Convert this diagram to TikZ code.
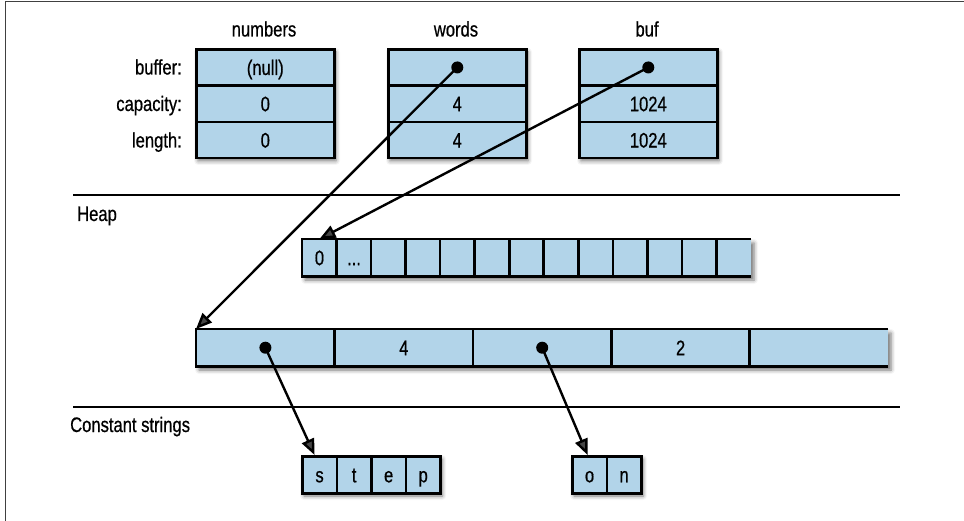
\documentclass[tikz,border=0pt]{standalone}
\usepackage{fontspec}
\setmainfont{Liberation Sans}[FakeStretch=0.79,FakeBold=0.6]
\usetikzlibrary{shadows.blur,arrows.meta}
\definecolor{cellblue}{RGB}{178,212,233}
\begin{document}
\begin{tikzpicture}[x=1pt,y=-1pt,
 lbl/.style={font=\fontsize{21}{25}\selectfont, inner sep=0pt},
 rowcell/.style={lbl, draw=black, line width=2.6pt, fill=cellblue, minimum width=138pt, minimum height=36.3pt, text height=15pt, text depth=0pt, anchor=north west},
 smallcell/.style={lbl, fill=cellblue, minimum width=34.54pt, minimum height=37pt, text height=15pt, text depth=0pt, anchor=north west},
 strcell/.style={smallcell, draw=black, line width=2.6pt},
 bigcell/.style={lbl, fill=cellblue, minimum width=138.4pt, minimum height=37pt, text height=15pt, text depth=0pt, anchor=north west},
 bord/.style={line width=2.6pt, black},
 shad/.style={fill=cellblue, blur shadow={shadow xshift=3pt, shadow yshift=-4pt, shadow blur radius=4pt, shadow opacity=55}},
 dotn/.style={circle, fill=black, inner sep=0pt, minimum size=12pt},
 arr/.style={line width=2.4pt, -{Triangle[length=16pt,width=13pt]}},
 sep/.style={line width=2.4pt},
]
\useasboundingbox (0,0) rectangle (964,521);
% frame
\draw[line width=1.6pt, black!75] (5.5,521) -- (5.5,1.5) -- (964,1.5);

% top structs
\path[shad] (195,48) rectangle ++(138,108.9);
\path[shad] (387,48) rectangle ++(138,108.9);
\path[shad] (578,48) rectangle ++(138,108.9);
\node[rowcell] (n1) at (195,48) {(null)};
\node[rowcell] (n2) at (195,84.3) {0};
\node[rowcell] (n3) at (195,120.6) {0};
\node[rowcell] (w1) at (387,48) {};
\node[rowcell] (w2) at (387,84.3) {4};
\node[rowcell] (w3) at (387,120.6) {4};
\node[rowcell] (b1) at (578,48) {};
\node[rowcell] (b2) at (578,84.3) {1024};
\node[rowcell] (b3) at (578,120.6) {1024};

\node[lbl, anchor=base] (tn) at (264,36.5) {numbers};
\node[lbl, anchor=base] (tw) at (456,36.5) {words};
\node[lbl, anchor=base] (tb) at (647,36.5) {buf};
\node[lbl, anchor=base east] (rb) at (182,74.5) {buffer:};
\node[lbl, anchor=base east] (rc) at (182,111) {capacity:};
\node[lbl, anchor=base east] (rl) at (182,147.5) {length:};

% separators
\coordinate (sa1) at (73,195); \coordinate (sb1) at (900,195);
\coordinate (sa2) at (73,407); \coordinate (sb2) at (900,407);
\draw[sep] (sa1) -- (sb1);
\draw[sep] (sa2) -- (sb2);
\node[lbl, anchor=base west] (heap) at (77,221) {Heap};
\node[lbl, anchor=base west] (cs) at (70,432) {Constant strings};

% heap buffer
\path[shad] (302,239) rectangle (751,276);
\node[smallcell] (h1) at (302,239) {0};
\node[smallcell] (h2) at (336.54,239) {...};
\foreach \i in {3,...,13} \node[smallcell] (h\i) at ({302+(\i-1)*34.54},239) {};
\draw[bord] (h13.north east) -- (h1.north west) -- (h1.south west) -- (h13.south east);
\foreach \i in {2,...,13} \draw[bord] (h\i.north west) -- (h\i.south west);

% big array
\path[shad] (196,329) rectangle (888,366);
\node[bigcell] (a1) at (196,329) {};
\node[bigcell] (a2) at (334.4,329) {4};
\node[bigcell] (a3) at (472.8,329) {};
\node[bigcell] (a4) at (611.2,329) {2};
\node[bigcell] (a5) at (749.6,329) {};
\draw[bord] (a5.north east) -- (a1.north west) -- (a1.south west) -- (a5.south east);
\foreach \i in {2,...,5} \draw[bord] (a\i.north west) -- (a\i.south west);

% constant strings
\path[shad] (301,455) rectangle ++(138.16,37);
\path[shad] (571,455) rectangle ++(69.08,37);
\node[strcell] (s1) at (301,455) {s};
\node[strcell] (s2) at (335.54,455) {t};
\node[strcell] (s3) at (370.08,455) {e};
\node[strcell] (s4) at (404.62,455) {p};
\node[strcell] (o1) at (571,455) {o};
\node[strcell] (o2) at (605.54,455) {n};

% dots
\node[dotn] (wd) at (w1.center) {};
\node[dotn] (bd) at (b1.center) {};
\node[dotn] (ad1) at (a1.center) {};
\node[dotn] (ad3) at (a3.center) {};

% arrows
\draw[arr] (wd.center) -- (a1.north west);
\draw[arr] (bd.center) -- (h1.north);
\draw[arr] (ad1.center) -- ([xshift=-5pt]s1.north);
\draw[arr] (ad3.center) -- ([xshift=-2pt]o1.north);
\end{tikzpicture}
\end{document}
